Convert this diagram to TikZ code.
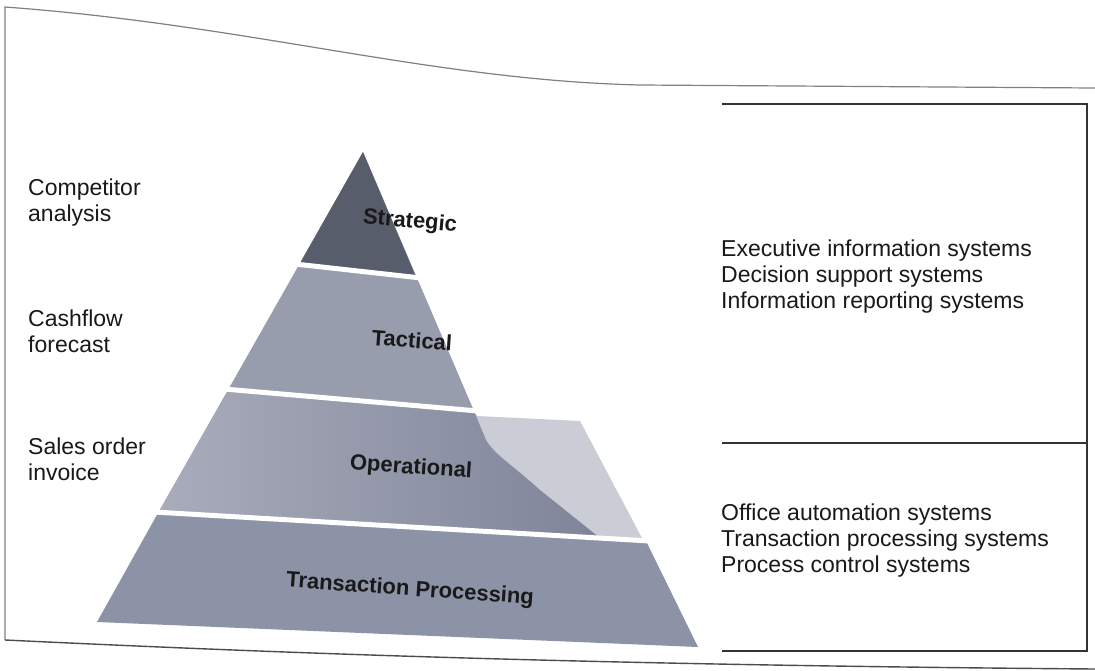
\documentclass[tikz,border=0pt]{standalone}
\usepackage{fontspec}
\setmainfont{Liberation Sans}
\begin{document}
\begin{tikzpicture}[x=1pt,y=-1pt,
  frameline/.style={draw=black!50,line width=1.2pt},
  boxline/.style={draw=black!80,line width=1.8pt},
  gap/.style={draw=white,line width=5pt},
  sidetext/.style={font=\fontsize{23}{26}\selectfont,text=black!90,align=left,anchor=west,inner sep=0pt},
  layertext/.style={font=\bfseries\fontsize{22}{26}\selectfont,text=black!90,inner sep=0pt},
]
\definecolor{stratc}{HTML}{585D6C}
\definecolor{tactc}{HTML}{989DAE}
\definecolor{operc}{HTML}{A8ACBB}
\definecolor{shadowc}{HTML}{7F8499}
\definecolor{lightc}{HTML}{CACDD6}
\definecolor{transc}{HTML}{8D93A7}

\useasboundingbox (0,0) rectangle (1095,670);
\fill[white] (0,0) rectangle (1095,670);

% page frame: left edge, curled top edge, bottom edge
\coordinate (ftl) at (5,7);
\coordinate (fbl) at (5,640);
\coordinate (ftr) at (1095,88);
\coordinate (fbr) at (1095,669);
\draw[frameline] (fbl) -- (ftl) .. controls (250,25) and (430,80) .. (640,85) -- (ftr);
\draw[boxline,draw=black!70,line width=1.4pt] (fbl) .. controls (300,654) and (600,665) .. (fbr);

% pyramid corners
\coordinate (apex) at (363,152);
\coordinate (s1) at (299,265);
\coordinate (s2) at (416,277);
\coordinate (t1) at (228,390);
\coordinate (t2) at (474,411);
\coordinate (o2) at (477,416);
\coordinate (o3) at (580,421);
\coordinate (o4) at (643,540);
\coordinate (o5) at (600,538);
\coordinate (o6) at (158,513);
\coordinate (b2) at (646,541);
\coordinate (b3) at (698,647);
\coordinate (b4) at (97,622);

% layers
\fill[tactc] (apex) -- (t1) -- (t2) -- cycle;
\fill[stratc] (apex) -- (s1) -- (s2) -- cycle;
\fill[lightc] (t1) -- (t2) -- (o2) -- (o3) -- (o4) -- (o6) -- cycle;
\shade[left color=operc,right color=shadowc]
  (t1) -- (t2) -- (486,440) .. controls (495,455) and (510,463) .. (540,490) -- (o5) -- (o6) -- cycle;
\fill[transc] (o6) -- (b2) -- (b3) -- (b4) -- cycle;

% white gaps between layers
\draw[gap] (295,264) -- (421,278);
\draw[gap] (224,389) -- (478,411);
\draw[gap] (154,512) -- (650,541);

% layer names
\node[layertext,rotate=-5] (strategic) at (410,222) {Strategic};
\node[layertext,rotate=-4] (tactical) at (412,340) {Tactical};
\node[layertext,rotate=-4] (operational) at (411,468) {Operational};
\node[layertext,rotate=-4] (transaction) at (410,590) {Transaction Processing};

% examples on the left
\node[sidetext] (competitor) at (28,203) {Competitor\\analysis};
\node[sidetext] (cashflow) at (28,331) {Cashflow\\forecast};
\node[sidetext] (sales) at (28,459) {Sales order\\invoice};

% systems box on the right
\coordinate (btl) at (722,104);
\coordinate (btr) at (1087,104);
\coordinate (bml) at (722,443);
\coordinate (bmr) at (1087,443);
\coordinate (bbl) at (722,651);
\coordinate (bbr) at (1087,651);
\draw[boxline] (btl) -- (btr) -- (bbr) -- (bbl);
\draw[boxline] (bml) -- (bmr);

\node[sidetext] (upper) at (721,277) {Executive information systems\\Decision support systems\\Information reporting systems};
\node[sidetext] (lower) at (721,541) {Office automation systems\\Transaction processing systems\\Process control systems};
\end{tikzpicture}
\end{document}
